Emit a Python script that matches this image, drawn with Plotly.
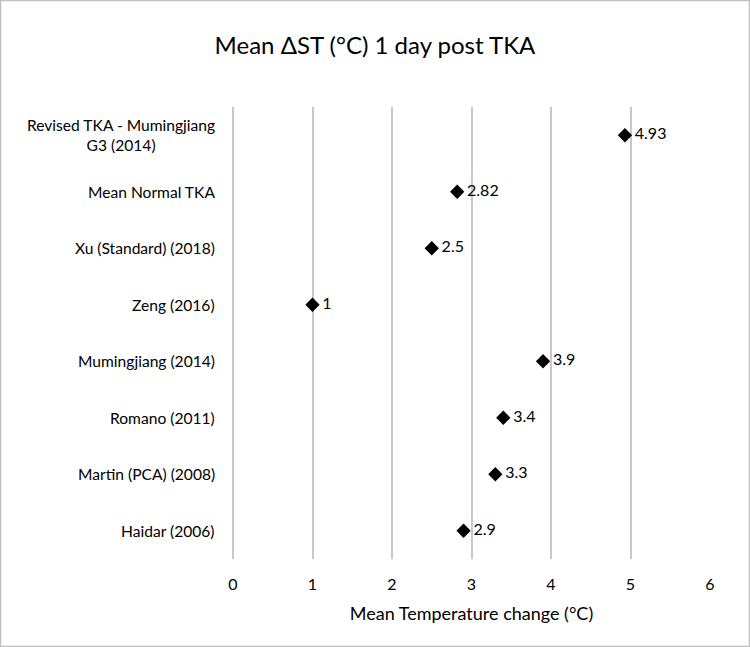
import plotly.graph_objects as go

categories = [
    "Haidar (2006)",
    "Martin (PCA) (2008)",
    "Romano (2011)",
    "Mumingjiang (2014)",
    "Zeng (2016)",
    "Xu (Standard) (2018)",
    "Mean Normal TKA",
    "Revised TKA - Mumingjiang<br>G3 (2014)",
]
values = [2.9, 3.3, 3.4, 3.9, 1, 2.5, 2.82, 4.93]
value_labels = ["2.9", "3.3", "3.4", "3.9", "1", "2.5", "2.82", "4.93"]
x_ticks = [0, 1, 2, 3, 4, 5, 6]

W, H = 750, 647
ML, MR, MT, MB = 233, 40, 107, 88
FONT = "Lato, 'Open Sans', sans-serif"

fig = go.Figure()
fig.add_trace(go.Scatter(
    x=values, y=list(range(len(categories))),
    mode="markers+text",
    marker=dict(symbol="diamond", size=11, color="black"),
    text=["\u2009" + t for t in value_labels],
    textposition="middle right",
    textfont=dict(family=FONT, size=16, color="black"),
    cliponaxis=False,
    showlegend=False,
))

annotations = []
for i, c in enumerate(categories):
    annotations.append(dict(
        x=0, xref="paper", y=i, yref="y", text=c,
        xanchor="right", yanchor="middle", align="center",
        xshift=-16, showarrow=False,
        font=dict(family=FONT, size=15.6, color="black"),
    ))

pw = W - ML - MR
ph = H - MT - MB
fig.update_layout(
    width=W, height=H,
    margin=dict(l=ML, r=MR, t=MT, b=MB),
    paper_bgcolor="white", plot_bgcolor="white",
    title=dict(text="Mean ΔST (°C) 1 day post TKA", x=0.5, xanchor="center",
               y=1 - 46 / H, yanchor="middle",
               font=dict(family=FONT, size=24, color="black")),
    xaxis=dict(range=[0, 6], tickvals=x_ticks, ticktext=[str(t) for t in x_ticks],
               showgrid=True, gridcolor="#c8c8c8", gridwidth=1.5,
               zeroline=True, zerolinecolor="#c8c8c8", zerolinewidth=1.5,
               showline=False, ticks="", ticklabelstandoff=14,
               tickfont=dict(family=FONT, size=16, color="black"),
               title=dict(text="Mean Temperature change (°C)", standoff=15,
                          font=dict(family=FONT, size=18, color="black"))),
    yaxis=dict(range=[-0.5, len(categories) - 0.5], showticklabels=False,
               showgrid=False, zeroline=False, showline=False, ticks=""),
    annotations=annotations,
    shapes=[dict(type="rect", xref="paper", yref="paper",
                 x0=-ML / pw + 0.5 / pw, x1=1 + MR / pw - 0.5 / pw,
                 y0=-MB / ph + 0.5 / ph, y1=1 + MT / ph - 0.5 / ph,
                 line=dict(color="#bfbfbf", width=1.5), layer="below")],
)

fig.write_html("out.html")
